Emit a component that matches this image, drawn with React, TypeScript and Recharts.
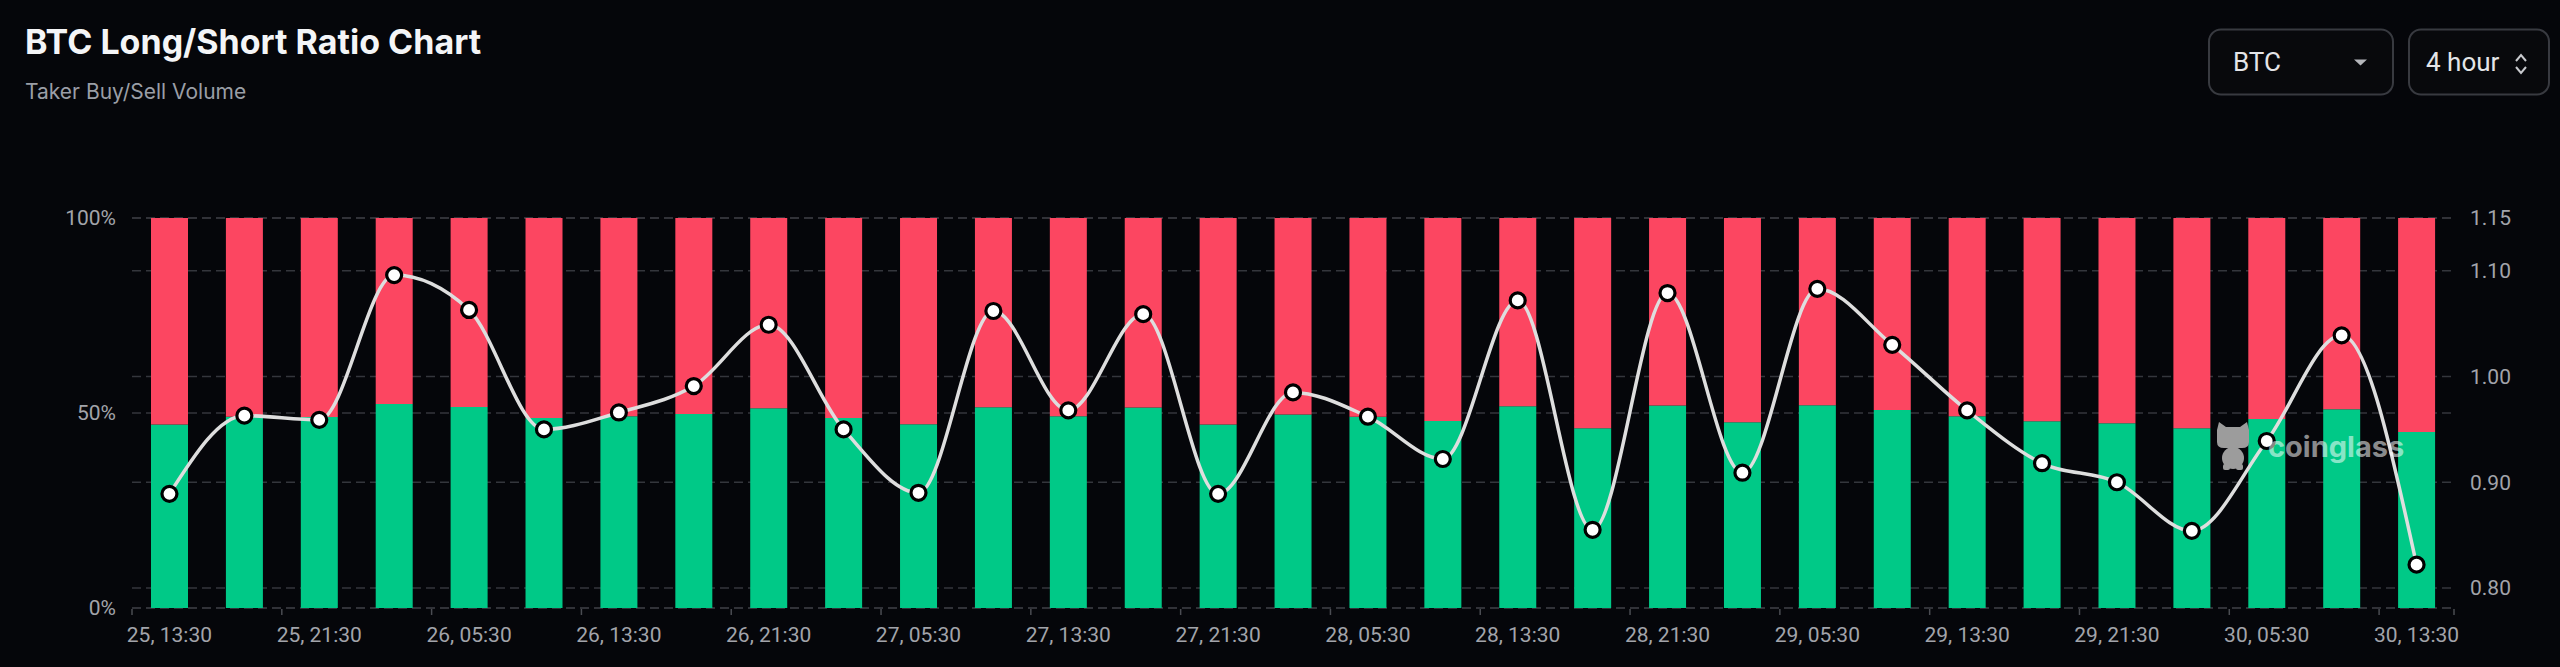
import React from "react";
import { ComposedChart, Bar, Line, XAxis, YAxis, CartesianGrid } from "recharts";

const times = [
  "25, 13:30", "25, 17:30", "25, 21:30",
  "26, 01:30", "26, 05:30", "26, 09:30", "26, 13:30", "26, 17:30", "26, 21:30",
  "27, 01:30", "27, 05:30", "27, 09:30", "27, 13:30", "27, 17:30", "27, 21:30",
  "28, 01:30", "28, 05:30", "28, 09:30", "28, 13:30", "28, 17:30", "28, 21:30",
  "29, 01:30", "29, 05:30", "29, 09:30", "29, 13:30", "29, 17:30", "29, 21:30",
  "30, 01:30", "30, 05:30", "30, 09:30", "30, 13:30",
];

// taker buy (long) share, %
const longPct = [
  47.06, 49.06, 48.95, 52.29, 51.53, 48.72, 49.14, 49.77, 51.2, 48.72, 47.09,
  51.5, 49.19, 51.43, 47.06, 49.62, 49.03, 47.97, 51.74, 46.09, 51.9, 47.62,
  51.99, 50.74, 49.19, 47.86, 47.37, 46.06, 48.43, 50.96, 45.12,
];

// taker sell (short) share, %
const shortPct = [
  52.94, 50.94, 51.05, 47.71, 48.47, 51.28, 50.86, 50.23, 48.8, 51.28, 52.91,
  48.5, 50.81, 48.57, 52.94, 50.38, 50.97, 52.03, 48.26, 53.91, 48.1, 52.38,
  48.01, 49.26, 50.81, 52.14, 52.63, 53.94, 51.57, 49.04, 54.88,
];

// buy/sell ratio
const ratio = [
  0.889, 0.963, 0.959, 1.096, 1.063, 0.95, 0.966, 0.991, 1.049, 0.95, 0.89,
  1.062, 0.968, 1.059, 0.889, 0.985, 0.962, 0.922, 1.072, 0.855, 1.079, 0.909,
  1.083, 1.03, 0.968, 0.918, 0.9, 0.854, 0.939, 1.039, 0.822,
];

const pctTicks = [0, 50, 100];
const ratioTicks = [0.8, 0.9, 1.0, 1.1, 1.15];

const data = times.map((t, i) => ({
  time: t,
  long: longPct[i],
  short: shortPct[i],
  ratio: ratio[i],
}));

const W = 2560;
const H = 667;
const LEFT_W = 132;
const RIGHT_W = 106;
const PLOT_W = W - LEFT_W - RIGHT_W;
const BAND = PLOT_W / times.length;
const TICK_GAP = 19;

const GREEN = "#00c987";
const RED = "#fc4661";
const BG = "#05060a";
const axisTick = { fontSize: 21, fill: "#a2a4aa", fontFamily: "Roboto" };

function TimeTick({ x, y, payload }: any) {
  const axisY = y - TICK_GAP;
  const last = payload.value === times[times.length - 1];
  return (
    <g>
      <line x1={x - BAND / 2} x2={x - BAND / 2} y1={axisY + 1} y2={axisY + 7} stroke="#4a4c52" strokeWidth={1.5} />
      {last && (
        <line x1={x + BAND / 2} x2={x + BAND / 2} y1={axisY + 1} y2={axisY + 7} stroke="#4a4c52" strokeWidth={1.5} />
      )}
      <text x={x} y={y} dy="0.71em" textAnchor="middle" {...axisTick}>
        {payload.value}
      </text>
    </g>
  );
}

function Header() {
  return (
    <svg width={W} height={H} style={{ position: "absolute", left: 0, top: 0, pointerEvents: "none" }}>
      <text x={25} y={53.5} fontFamily="Inter" fontWeight={700} fontSize={34} fill="#f4f5f7">
        BTC Long/Short Ratio Chart
      </text>
      <text x={25} y={98.5} fontFamily="Inter" fontSize={21} fill="#9a9ea6">
        Taker Buy/Sell Volume
      </text>

      <rect x={2209} y={29.5} width={184} height={65} rx={12} fill="#08090c" stroke="#383a40" strokeWidth={2} />
      <text x={2233} y={70.5} fontFamily="Roboto" fontSize={26} fill="#e4e5e8">BTC</text>
      <polygon points="2354,59.5 2367,59.5 2360.5,65.5" fill="#b4b6bb" />

      <rect x={2409} y={29.5} width={140} height={65} rx={12} fill="#08090c" stroke="#383a40" strokeWidth={2} />
      <text x={2426} y={70.5} fontFamily="Roboto" fontSize={26} fill="#e4e5e8">4 hour</text>
      <polyline points="2516,61 2521,55 2526,61" fill="none" stroke="#c8cace" strokeWidth={2} />
      <polyline points="2516,67 2521,73 2526,67" fill="none" stroke="#c8cace" strokeWidth={2} />

      {/* watermark */}
      <g fill="#9c9c9c">
        <path d="M2217,430 L2219,422 L2226,427 L2240,427 L2247,422 L2249,430 L2249,442 Q2249,448 2242,448 L2224,448 Q2217,448 2217,442 Z" />
        <ellipse cx={2233} cy={458} rx={11} ry={11} />
        <rect x={2223} y={464} width={7} height={6} rx={2} />
        <rect x={2236} y={464} width={7} height={6} rx={2} />
      </g>
      <text x={2268} y={457} fontFamily="Inter" fontWeight={700} fontSize={29} fill="rgba(255,255,255,0.55)">
        coinglass
      </text>
    </svg>
  );
}

export default function App() {
  return (
    <div style={{ position: "absolute", left: 0, top: 0, width: W, height: H, background: BG, overflow: "hidden" }}>
      <ComposedChart
        width={W}
        height={H}
        data={data}
        margin={{ top: 218, right: 0, bottom: 19, left: 0 }}
        barCategoryGap={0}
      >
        <CartesianGrid yAxisId="left" vertical={false} stroke="#34363c" strokeWidth={1.5} strokeDasharray="9 5" />
        <CartesianGrid yAxisId="right" vertical={false} stroke="#34363c" strokeWidth={1.5} strokeDasharray="9 5" />
        <XAxis
          dataKey="time"
          interval={1}
          axisLine={false}
          tickLine={false}
          tickSize={0}
          tickMargin={TICK_GAP}
          height={40}
          tick={<TimeTick />}
        />
        <YAxis
          yAxisId="left"
          orientation="left"
          width={LEFT_W}
          domain={[0, 100]}
          ticks={pctTicks}
          tickFormatter={(v: number) => `${v}%`}
          axisLine={false}
          tickLine={false}
          tickSize={0}
          tickMargin={16}
          tick={axisTick}
        />
        <YAxis
          yAxisId="right"
          orientation="right"
          width={RIGHT_W}
          domain={[0.781, 1.15]}
          ticks={ratioTicks}
          tickFormatter={(v: number) => v.toFixed(2)}
          axisLine={false}
          tickLine={false}
          tickSize={0}
          tickMargin={16}
          tick={axisTick}
          allowDataOverflow
        />
        <Bar yAxisId="left" dataKey="long" stackId="a" fill={GREEN} barSize={37} isAnimationActive={false} />
        <Bar yAxisId="left" dataKey="short" stackId="a" fill={RED} barSize={37} isAnimationActive={false} />
        <Line
          yAxisId="right"
          type="monotone"
          dataKey="ratio"
          stroke="#dedede"
          strokeWidth={3.5}
          dot={{ r: 7.5, fill: "#ffffff", stroke: "#000000", strokeWidth: 3.2 }}
          activeDot={false}
          isAnimationActive={false}
        />
      </ComposedChart>
      <Header />
    </div>
  );
}
